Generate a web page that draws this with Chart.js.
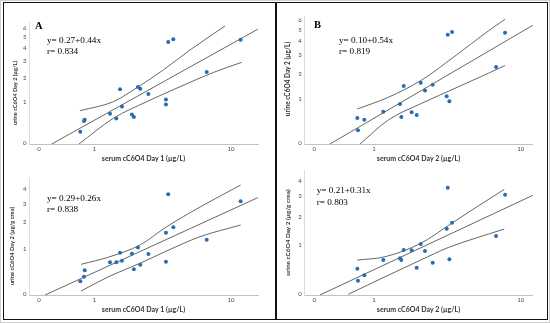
<!DOCTYPE html>
<html><head><meta charset="utf-8">
<script src="https://cdn.jsdelivr.net/npm/chart.js@4.4.0/dist/chart.umd.min.js"></script>
<style>
html,body{margin:0;padding:0;background:#fff;}
body{width:550px;height:324px;position:relative;overflow:hidden;}
#outer{position:absolute;left:0;top:0;width:550px;height:323px;border:1px solid #cfcfcf;box-sizing:border-box;}
#frame{position:absolute;left:3px;top:2px;width:545px;height:318px;border:1.5px solid #111;box-sizing:border-box;}
#divider{position:absolute;left:274.7px;top:3px;width:2px;height:316px;background:#111;}
canvas{position:absolute;}
</style></head><body>
<div id="outer"></div><div id="frame"></div><div id="divider"></div>
<canvas id="cA1"></canvas><canvas id="cA2"></canvas><canvas id="cB1"></canvas><canvas id="cB2"></canvas>
<script>
// ---- tick labels ----
const xTickLabels = [0, 1, 10];
const yTickLabelsGL = [0, 1, 2, 3, 4, 5, 6];
const yTickLabelsCrea = [0, 1, 2, 3, 4];

// ---- data (original units) ----
const serumDay1 = [0.675,0.754,0.770,1.427,1.626,1.75,1.818,2.19,2.27,2.44,2.54,2.92,3.88,3.88,4.02,4.35,7.12,11.4];
const urineGL_A = [0.21,0.45,0.48,0.64,0.51,1.48,0.85,0.62,0.55,1.58,1.50,1.29,1.09,0.92,4.52,4.77,2.32,4.73];
const urineCrea_A = [0.22,0.309,0.444,0.632,0.632,0.89,0.672,0.862,0.466,1.05,0.573,0.853,1.566,0.647,3.62,1.787,1.306,3.15];
const serumDay2 = [0.648,0.660,0.787,1.228,1.705,1.746,1.824,2.097,2.283,2.441,2.616,2.955,3.653,3.80,3.71,3.95,7.25,8.16];
const urineGL_B = [0.49,0.228,0.452,0.646,0.858,0.514,1.468,0.63,0.563,1.60,1.30,1.52,1.10,0.94,4.54,4.78,2.33,4.72];
const urineCrea_B = [0.436,0.212,0.308,0.624,0.664,0.624,0.871,0.864,0.456,1.037,0.845,0.564,1.529,0.641,3.52,1.754,1.28,3.09];

// ---- fit lines and confidence bands ----
const fitA1X = [0.172, 14.35], fitA1Y = [-0.017, 5.84];
const upA1X = [0.668,1.529,2.456,3.72,5.59,9.2], upA1Y = [0.726,1.01,1.589,2.435,3.82,6.23];
const loA1X = [0.648,1.529,2.837,4.82,7.81,11.57], loA1Y = [-0.017,0.518,1.01,1.589,2.294,2.913];
const fitA2X = [0.078, 14.35], fitA2Y = [-0.011, 3.385];
const upA2X = [0.690,1.427,2.53,3.925,6.47,11.4], upA2Y = [0.582,0.778,1.126,1.812,2.80,4.32];
const loA2X = [0.690,1.427,2.53,3.925,6.47,11.4], loA2Y = [0.052,0.323,0.607,0.941,1.414,1.887];
const fitB1X = [0.200, 11.71], fitB1Y = [-0.011, 5.46];
const upB1X = [0.648,1.361,2.48,4.125,6.54,8.16], upB1Y = [0.718,1.065,1.714,2.96,4.88,6.07];
const loB1X = [0.7,1.361,2.48,4.125,6.54,8.16], loB1Y = [-0.011,0.444,0.879,1.381,2.017,2.41];
const fitB2X = [0.068, 11.71], fitB2Y = [-0.01, 3.07];
const upB2X = [0.648,1.273,2.44,3.74,5.46,8.08], upB2Y = [0.624,0.702,1.057,1.646,2.39,3.42];
const loB2X = [0.484,1.273,2.44,3.74,5.46,8.08], loB2Y = [0,0.282,0.624,0.939,1.208,1.518];

// axis transform: log10(v+1)
const T = v => Math.log10(v + 1);
const pts = (xs, ys) => xs.map((x, i) => ({x: T(x), y: T(ys[i])}));

const POINT = '#2a6cb0', LINE = '#666666';
const TICKFONT = {family: 'Lato', size: 6};

function build(id, g, d) {
  const cv = document.getElementById(id);
  cv.width = g.cw; cv.height = g.ch;
  cv.style.left = g.cx + 'px'; cv.style.top = g.cy + 'px';
  cv.style.width = g.cw + 'px'; cv.style.height = g.ch + 'px';
  const titleSize = 7, lh = titleSize * 1.2;
  const wy = g.L - g.cx;
  const padT = g.T - g.cy;
  const padR = g.cx + g.cw - g.R;
  const xBoxBottom = g.xTitleY + lh / 2;
  const hx = xBoxBottom - g.B;
  const padB = g.cy + g.ch - xBoxBottom;
  const textPlugin = {
    id: 'panelText',
    afterDraw(chart) {
      const ctx = chart.ctx;
      d.texts.forEach(it => {
        ctx.save();
        ctx.font = it.font; ctx.fillStyle = it.color || '#000';
        ctx.textAlign = it.align || 'left'; ctx.textBaseline = 'middle';
        ctx.translate(it.x - g.cx, it.y - g.cy);
        if (it.rot) ctx.rotate(it.rot);
        ctx.fillText(it.text, 0, 0);
        ctx.restore();
      });
    }
  };
  const lineDs = (data, smooth) => ({type: 'line', data, showLine: true, pointRadius: 0, borderColor: LINE, borderWidth: 1,
    tension: smooth ? 0.4 : 0, cubicInterpolationMode: smooth ? 'monotone' : 'default', fill: false});
  new Chart(cv, {
    type: 'scatter',
    data: {datasets: [
      {data: pts(d.xs, d.ys), pointRadius: 2, pointBackgroundColor: POINT, pointBorderWidth: 0, showLine: false},
      lineDs(pts(d.fitX, d.fitY), false),
      lineDs(pts(d.upX, d.upY), true),
      lineDs(pts(d.loX, d.loY), true)
    ]},
    options: {
      responsive: false, animation: false, devicePixelRatio: 1,
      layout: {padding: {left: 0, top: padT, right: padR, bottom: padB}},
      plugins: {legend: {display: false}, tooltip: {enabled: false}},
      scales: {
        x: {
          type: 'linear', min: (g.L - g.x0) / g.xu, max: (g.R - g.x0) / g.xu,
          afterBuildTicks: s => { s.ticks = xTickLabels.map(v => ({value: T(v)})); },
          ticks: {callback: (v, i) => xTickLabels[i], font: TICKFONT, color: '#444', padding: 1, maxRotation: 0, autoSkip: false},
          grid: {display: false, drawTicks: false},
          border: {display: true, color: '#c2c2c2', width: 1},
          title: {display: true, text: d.xTitle, font: {family: 'Lato', size: titleSize, weight: 'bold'}, color: '#333', padding: 0},
          afterFit: s => { s.height = hx; }
        },
        y: {
          type: 'linear', min: (g.y0 - g.B) / g.yu, max: (g.y0 - g.T) / g.yu,
          afterBuildTicks: s => { s.ticks = d.yTicks.map(v => ({value: T(v)})); },
          ticks: {callback: (v, i) => d.yTicks[i], font: TICKFONT, color: '#444', padding: 2.5, autoSkip: false},
          grid: {display: false, drawTicks: false},
          border: {display: true, color: '#dcdcdc', width: 1},
          afterFit: s => { s.width = wy; }
        }
      }
    },
    plugins: [textPlugin]
  });
}

const EQ = "9.2px 'Liberation Serif'";
const LET = "bold 10.5px 'Liberation Serif'";
const R90 = -Math.PI / 2;

build('cA1', {cx:5, cy:4, cw:269, ch:160, L:29, R:258, T:22, B:144, x0:39, xu:184.4, y0:143, yu:136.2, xTitleY:159}, {
  xs: serumDay1, ys: urineGL_A, fitX: fitA1X, fitY: fitA1Y, upX: upA1X, upY: upA1Y, loX: loA1X, loY: loA1Y,
  yTicks: yTickLabelsGL, xTitle: 'serum cC6O4 Day 1 (µg/L)',
  texts: [
    {text: 'A', x: 35, y: 26, font: LET},
    {text: 'y= 0.27+0.44x', x: 47, y: 40.7, font: EQ},
    {text: 'r= 0.834', x: 47, y: 51.7, font: EQ},
    {text: 'urine cC6O4 Day 2 (µg/L)', x: 15, y: 93, rot: R90, align: 'center', font: "bold 5.6px Lato", color: '#333'}
  ]
});
build('cA2', {cx:5, cy:164, cw:269, ch:154, L:29, R:258, T:178, B:295, x0:39, xu:184.4, y0:294.3, yu:150.5, xTitleY:310}, {
  xs: serumDay1, ys: urineCrea_A, fitX: fitA2X, fitY: fitA2Y, upX: upA2X, upY: upA2Y, loX: loA2X, loY: loA2Y,
  yTicks: yTickLabelsCrea, xTitle: 'serum cC6O4 Day 1 (µg/L)',
  texts: [
    {text: 'y= 0.29+0.26x', x: 47, y: 198.3, font: EQ},
    {text: 'r= 0.838', x: 47, y: 209.3, font: EQ},
    {text: 'urine cC6O4 Day 2 (µg/g crea)', x: 12, y: 246, rot: R90, align: 'center', font: "bold 5.8px Lato", color: '#333'}
  ]
});
build('cB1', {cx:277, cy:4, cw:268, ch:160, L:304.3, R:532.7, T:16, B:144, x0:314.3, xu:198.3, y0:143.3, yu:146, xTitleY:158.3}, {
  xs: serumDay2, ys: urineGL_B, fitX: fitB1X, fitY: fitB1Y, upX: upB1X, upY: upB1Y, loX: loB1X, loY: loB1Y,
  yTicks: yTickLabelsGL, xTitle: 'serum cC6O4 Day 2 (µg/L)',
  texts: [
    {text: 'B', x: 314, y: 25, font: LET},
    {text: 'y= 0.10+0.54x', x: 339, y: 41, font: EQ},
    {text: 'r= 0.819', x: 339, y: 51.7, font: EQ},
    {text: 'urine cC6O4 Day 2 (µg/L)', x: 288.3, y: 79, rot: R90, align: 'center', font: "bold 6.5px Lato", color: '#333'}
  ]
});
build('cB2', {cx:277, cy:164, cw:268, ch:154, L:304.3, R:532.7, T:170, B:295, x0:314.3, xu:198.3, y0:294.3, yu:162.8, xTitleY:310}, {
  xs: serumDay2, ys: urineCrea_B, fitX: fitB2X, fitY: fitB2Y, upX: upB2X, upY: upB2Y, loX: loB2X, loY: loB2Y,
  yTicks: yTickLabelsCrea, xTitle: 'serum cC6O4 Day 2 (µg/L)',
  texts: [
    {text: 'y= 0.21+0.31x', x: 316.7, y: 190.7, font: EQ},
    {text: 'r= 0.803', x: 316.7, y: 202.3, font: EQ},
    {text: 'urine cC6O4 Day 2 (µg/g crea)', x: 288.3, y: 232.5, rot: R90, align: 'center', font: "bold 6.4px Lato", color: '#333'}
  ]
});
</script>
</body></html>
